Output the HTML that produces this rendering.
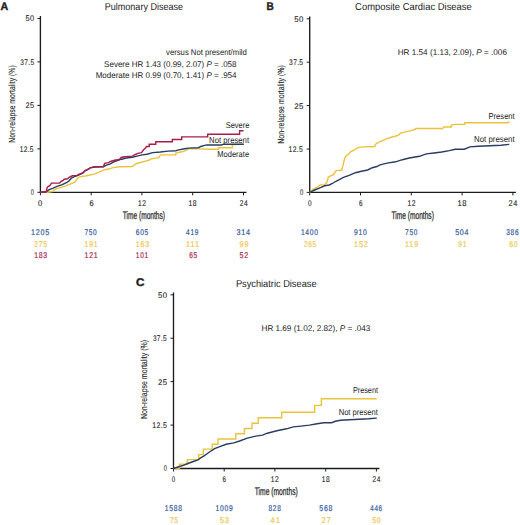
<!DOCTYPE html>
<html><head><meta charset="utf-8"><style>
html,body{margin:0;padding:0;background:#fff;width:520px;height:525px;overflow:hidden}
svg{display:block}
text{font-family:"Liberation Sans", sans-serif;text-rendering:geometricPrecision}
</style></head><body>
<svg width="520" height="525" viewBox="0 0 520 525">
<rect width="520" height="525" fill="#fff"/>
<path d="M40.4,16.1 V192.3 H246.5" fill="none" stroke="#1c1c1c" stroke-width="1.35"/>
<path d="M37.4,192.3 H40.4" stroke="#1c1c1c" stroke-width="1"/>
<path d="M40.4,192.3 V195.3" stroke="#1c1c1c" stroke-width="1"/>
<path d="M37.4,148.9 H40.4" stroke="#1c1c1c" stroke-width="1"/>
<path d="M91.2,192.3 V195.3" stroke="#1c1c1c" stroke-width="1"/>
<path d="M37.4,105.4 H40.4" stroke="#1c1c1c" stroke-width="1"/>
<path d="M141.9,192.3 V195.3" stroke="#1c1c1c" stroke-width="1"/>
<path d="M37.4,61.9 H40.4" stroke="#1c1c1c" stroke-width="1"/>
<path d="M192.7,192.3 V195.3" stroke="#1c1c1c" stroke-width="1"/>
<path d="M37.4,18.5 H40.4" stroke="#1c1c1c" stroke-width="1"/>
<path d="M243.5,192.3 V195.3" stroke="#1c1c1c" stroke-width="1"/>
<path d="M309.7,16.400000000000002 V192.4 H515.9" fill="none" stroke="#1c1c1c" stroke-width="1.35"/>
<path d="M306.7,192.4 H309.7" stroke="#1c1c1c" stroke-width="1"/>
<path d="M309.7,192.4 V195.4" stroke="#1c1c1c" stroke-width="1"/>
<path d="M306.7,149.0 H309.7" stroke="#1c1c1c" stroke-width="1"/>
<path d="M360.5,192.4 V195.4" stroke="#1c1c1c" stroke-width="1"/>
<path d="M306.7,105.6 H309.7" stroke="#1c1c1c" stroke-width="1"/>
<path d="M411.3,192.4 V195.4" stroke="#1c1c1c" stroke-width="1"/>
<path d="M306.7,62.2 H309.7" stroke="#1c1c1c" stroke-width="1"/>
<path d="M462.1,192.4 V195.4" stroke="#1c1c1c" stroke-width="1"/>
<path d="M306.7,18.8 H309.7" stroke="#1c1c1c" stroke-width="1"/>
<path d="M512.9,192.4 V195.4" stroke="#1c1c1c" stroke-width="1"/>
<path d="M173.5,292.40000000000003 V468.5 H379.4" fill="none" stroke="#1c1c1c" stroke-width="1.35"/>
<path d="M170.5,468.5 H173.5" stroke="#1c1c1c" stroke-width="1"/>
<path d="M173.5,468.5 V471.5" stroke="#1c1c1c" stroke-width="1"/>
<path d="M170.5,425.1 H173.5" stroke="#1c1c1c" stroke-width="1"/>
<path d="M224.2,468.5 V471.5" stroke="#1c1c1c" stroke-width="1"/>
<path d="M170.5,381.6 H173.5" stroke="#1c1c1c" stroke-width="1"/>
<path d="M274.9,468.5 V471.5" stroke="#1c1c1c" stroke-width="1"/>
<path d="M170.5,338.2 H173.5" stroke="#1c1c1c" stroke-width="1"/>
<path d="M325.7,468.5 V471.5" stroke="#1c1c1c" stroke-width="1"/>
<path d="M170.5,294.8 H173.5" stroke="#1c1c1c" stroke-width="1"/>
<path d="M376.4,468.5 V471.5" stroke="#1c1c1c" stroke-width="1"/>
<polyline points="40.6,192.3 47.7,192.3 52.3,191.5 55.4,189.2 60.0,187.7 65.4,186.2 68.5,184.6 70.8,183.8 73.8,182.7 76.2,180.8 77.3,178.4 79.6,176.8 86.5,175.7 94.2,174.2 99.6,171.8 104.2,169.9 109.6,168.8 113.1,167.6 119.2,166.8 132.3,166.5 135.4,164.2 138.5,163.0 145.4,161.1 148.8,160.3 151.2,158.8 158.8,157.6 160.4,154.9 175.8,154.9 175.8,153.0 181.9,151.8 186.2,150.4 188.5,148.9 199.2,148.9 210.0,149.2 218.5,149.2 218.5,147.7 232.3,147.7 232.3,144.6 243.8,144.4" fill="none" stroke="#ebc23c" stroke-width="1.4" stroke-linejoin="miter"/>
<polyline points="40.6,192.3 46.0,192.0 49.2,189.6 53.1,188.1 57.7,186.2 62.3,184.6 66.9,182.3 69.2,180.8 71.5,178.1 73.8,176.9 78.5,175.0 82.7,173.2 85.0,170.9 88.1,169.4 90.4,167.8 95.0,167.0 103.5,166.7 105.8,165.3 110.4,163.8 114.6,161.5 121.5,159.2 126.2,158.0 132.3,157.2 136.9,156.1 142.3,154.9 146.9,154.2 152.7,152.6 160.4,152.0 168.1,151.1 175.8,150.7 178.8,149.9 184.6,148.8 188.5,148.1 198.5,147.7 200.8,146.5 204.6,145.4 207.0,144.9 221.5,145.0 223.8,144.2 243.8,144.2" fill="none" stroke="#283d60" stroke-width="1.4" stroke-linejoin="miter"/>
<polyline points="40.6,192.3 46.2,191.5 47.3,187.3 50.0,185.4 51.5,183.1 59.6,183.1 60.8,181.5 63.1,180.4 64.2,179.2 67.7,178.8 69.2,177.3 72.3,175.8 76.9,175.6 78.8,174.5 82.7,173.0 85.0,170.7 88.1,169.2 90.4,167.6 95.0,166.8 103.5,166.5 104.6,163.4 108.8,162.6 110.4,161.5 114.6,160.3 119.2,159.5 121.5,157.2 125.4,156.8 132.3,156.1 135.4,154.5 137.7,153.4 141.5,152.6 143.8,149.5 145.3,148.2 146.5,146.5 149.2,146.5 149.2,144.3 155.8,144.3 155.8,141.8 172.3,141.8 172.3,139.5 181.7,139.5 181.7,136.9 207.7,136.9 207.7,134.2 239.6,134.2 239.6,130.8 243.5,130.8" fill="none" stroke="#a81e48" stroke-width="1.4" stroke-linejoin="miter"/>
<polyline points="309.6,192.4 313.2,189.2 317.0,187.3 320.1,185.0 324.7,184.6 327.0,182.3 328.2,177.3 330.1,176.2 333.5,174.6 335.8,171.0 336.5,170.4 341.5,170.2 342.6,167.0 343.6,162.6 344.7,158.3 346.3,155.8 348.5,154.2 350.8,151.5 353.8,150.4 356.2,148.5 359.2,147.1 374.6,146.5 376.2,143.5 378.4,142.6 381.9,140.9 387.0,138.7 392.1,137.0 398.1,135.3 400.7,133.1 405.8,131.9 411.0,130.6 415.3,129.4 415.8,128.5 442.7,128.5 443.7,127.0 451.3,127.0 451.3,125.1 455.0,124.4 464.8,124.4 464.8,122.7 508.1,122.7 509.2,121.5" fill="none" stroke="#ebc23c" stroke-width="1.4" stroke-linejoin="miter"/>
<polyline points="309.6,192.4 314.7,190.0 319.3,188.1 324.7,185.8 329.3,185.0 332.4,183.5 335.5,181.5 339.3,179.6 343.5,177.4 349.2,175.4 355.4,172.7 361.5,171.2 367.7,170.0 372.3,167.7 376.9,166.5 380.1,164.8 387.0,163.1 395.6,161.8 402.4,159.7 409.3,158.0 419.6,156.3 426.3,153.9 434.0,153.0 441.7,152.0 449.4,150.6 455.2,149.2 464.2,149.2 470.0,146.9 478.1,146.3 489.6,145.8 501.1,145.2 509.2,144.4" fill="none" stroke="#283d60" stroke-width="1.4" stroke-linejoin="miter"/>
<polyline points="173.6,468.5 179.5,468.5 179.5,464.2 187.2,464.2 187.2,459.6 198.7,459.6 198.7,454.6 203.3,454.6 203.3,449.1 212.2,449.1 212.2,444.3 218.0,444.3 218.0,439.0 235.8,439.0 235.8,433.8 244.4,433.8 244.4,428.5 252.0,428.5 252.0,423.3 258.2,423.3 258.2,417.8 281.7,417.8 281.7,412.3 314.7,412.3 314.7,405.4 321.4,405.4 321.4,398.7 376.8,398.8" fill="none" stroke="#ebc23c" stroke-width="1.4" stroke-linejoin="miter"/>
<polyline points="173.6,468.5 179.5,466.5 183.3,465.4 187.9,463.5 193.3,461.5 197.9,460.0 200.2,458.1 204.1,455.8 208.8,452.5 214.6,448.7 220.4,446.3 226.2,444.3 233.8,442.9 239.6,441.0 247.3,438.1 255.8,436.1 262.5,435.1 267.3,433.2 276.9,430.8 286.5,428.8 293.3,426.9 300.8,426.1 309.4,425.1 317.1,423.7 323.8,422.7 331.5,422.7 335.4,421.3 340.5,420.3 349.4,419.8 359.0,419.3 368.7,418.8 376.8,418.1" fill="none" stroke="#283d60" stroke-width="1.4" stroke-linejoin="miter"/>
<text x="30.75" y="195.20000000000002" font-size="8.2" fill="#222" font-weight="normal" textLength="3.38" lengthAdjust="spacingAndGlyphs" letter-spacing="0.4" stroke="#222" stroke-width="0.08">0</text>
<text x="19.70" y="151.75000000000003" font-size="8.2" fill="#222" font-weight="normal" textLength="14.11" lengthAdjust="spacingAndGlyphs" letter-spacing="0.4" stroke="#222" stroke-width="0.08">12.5</text>
<text x="25.50" y="108.30000000000001" font-size="8.2" fill="#222" font-weight="normal" textLength="8.93" lengthAdjust="spacingAndGlyphs" letter-spacing="0.4" stroke="#222" stroke-width="0.08">25</text>
<text x="20.30" y="64.85" font-size="8.2" fill="#222" font-weight="normal" textLength="14.09" lengthAdjust="spacingAndGlyphs" letter-spacing="0.4" stroke="#222" stroke-width="0.08">37.5</text>
<text x="25.50" y="21.4" font-size="8.2" fill="#222" font-weight="normal" textLength="8.93" lengthAdjust="spacingAndGlyphs" letter-spacing="0.4" stroke="#222" stroke-width="0.08">50</text>
<text x="38.10" y="205.8" font-size="8.3" fill="#222" font-weight="normal" textLength="4.83" lengthAdjust="spacingAndGlyphs" letter-spacing="0.7" stroke="#222" stroke-width="0.12">0</text>
<text x="89.40" y="205.8" font-size="8.3" fill="#222" font-weight="normal" textLength="4.83" lengthAdjust="spacingAndGlyphs" letter-spacing="0.7" stroke="#222" stroke-width="0.12">6</text>
<text x="138.10" y="205.8" font-size="8.3" fill="#222" font-weight="normal" textLength="8.55" lengthAdjust="spacingAndGlyphs" letter-spacing="0.7" stroke="#222" stroke-width="0.12">12</text>
<text x="188.40" y="205.8" font-size="8.3" fill="#222" font-weight="normal" textLength="8.72" lengthAdjust="spacingAndGlyphs" letter-spacing="0.7" stroke="#222" stroke-width="0.12">18</text>
<text x="239.70" y="205.8" font-size="8.3" fill="#222" font-weight="normal" textLength="8.48" lengthAdjust="spacingAndGlyphs" letter-spacing="0.7" stroke="#222" stroke-width="0.12">24</text>
<text x="31.10" y="234.70000000000002" font-size="8.3" fill="#32599a" font-weight="normal" textLength="18.94" lengthAdjust="spacingAndGlyphs" letter-spacing="0.9" stroke="#32599a" stroke-width="0.2">1205</text>
<text x="84.50" y="234.70000000000002" font-size="8.3" fill="#32599a" font-weight="normal" textLength="12.94" lengthAdjust="spacingAndGlyphs" letter-spacing="0.9" stroke="#32599a" stroke-width="0.2">750</text>
<text x="135.80" y="234.70000000000002" font-size="8.3" fill="#32599a" font-weight="normal" textLength="13.16" lengthAdjust="spacingAndGlyphs" letter-spacing="0.9" stroke="#32599a" stroke-width="0.2">605</text>
<text x="186.10" y="234.70000000000002" font-size="8.3" fill="#32599a" font-weight="normal" textLength="13.08" lengthAdjust="spacingAndGlyphs" letter-spacing="0.9" stroke="#32599a" stroke-width="0.2">419</text>
<text x="236.40" y="234.70000000000002" font-size="8.3" fill="#32599a" font-weight="normal" textLength="14.38" lengthAdjust="spacingAndGlyphs" letter-spacing="0.9" stroke="#32599a" stroke-width="0.2">314</text>
<text x="34.20" y="246.55" font-size="8.3" fill="#ecc850" font-weight="normal" textLength="13.52" lengthAdjust="spacingAndGlyphs" letter-spacing="0.9" stroke="#ecc850" stroke-width="0.2">275</text>
<text x="84.50" y="246.55" font-size="8.3" fill="#ecc850" font-weight="normal" textLength="14.01" lengthAdjust="spacingAndGlyphs" letter-spacing="0.9" stroke="#ecc850" stroke-width="0.2">191</text>
<text x="135.80" y="246.55" font-size="8.3" fill="#ecc850" font-weight="normal" textLength="14.09" lengthAdjust="spacingAndGlyphs" letter-spacing="0.9" stroke="#ecc850" stroke-width="0.2">163</text>
<text x="186.10" y="246.55" font-size="8.3" fill="#ecc850" font-weight="normal" textLength="14.01" lengthAdjust="spacingAndGlyphs" letter-spacing="0.9" stroke="#ecc850" stroke-width="0.2">111</text>
<text x="239.50" y="246.55" font-size="8.3" fill="#ecc850" font-weight="normal" textLength="9.78" lengthAdjust="spacingAndGlyphs" letter-spacing="0.9" stroke="#ecc850" stroke-width="0.2">99</text>
<text x="34.20" y="258.40000000000003" font-size="8.3" fill="#a8284e" font-weight="normal" textLength="13.68" lengthAdjust="spacingAndGlyphs" letter-spacing="0.9" stroke="#a8284e" stroke-width="0.2">183</text>
<text x="84.50" y="258.40000000000003" font-size="8.3" fill="#a8284e" font-weight="normal" textLength="13.92" lengthAdjust="spacingAndGlyphs" letter-spacing="0.9" stroke="#a8284e" stroke-width="0.2">121</text>
<text x="135.80" y="258.40000000000003" font-size="8.3" fill="#a8284e" font-weight="normal" textLength="13.08" lengthAdjust="spacingAndGlyphs" letter-spacing="0.9" stroke="#a8284e" stroke-width="0.2">101</text>
<text x="189.20" y="258.40000000000003" font-size="8.3" fill="#a8284e" font-weight="normal" textLength="8.70" lengthAdjust="spacingAndGlyphs" letter-spacing="0.9" stroke="#a8284e" stroke-width="0.2">65</text>
<text x="239.50" y="258.40000000000003" font-size="8.3" fill="#a8284e" font-weight="normal" textLength="9.26" lengthAdjust="spacingAndGlyphs" letter-spacing="0.9" stroke="#a8284e" stroke-width="0.2">52</text>
<text x="0.60" y="10.0" font-size="11.0" fill="#222" font-weight="bold" textLength="7.71" lengthAdjust="spacingAndGlyphs" letter-spacing="0" stroke="#222" stroke-width="0.4">A</text>
<text x="104.70" y="10.0" font-size="10.0" fill="#222" font-weight="normal" textLength="78.47" lengthAdjust="spacingAndGlyphs" letter-spacing="0" stroke="#222" stroke-width="0.0">Pulmonary Disease</text>
<text x="166.10" y="55.1" font-size="8.3" fill="#222" font-weight="normal" textLength="80.74" lengthAdjust="spacingAndGlyphs" letter-spacing="0" stroke="#222" stroke-width="0.0">versus Not present/mild</text>
<text x="104.10" y="66.6" font-size="8.3" fill="#222" font-weight="normal" textLength="132.44" lengthAdjust="spacingAndGlyphs" letter-spacing="0" stroke="#222" stroke-width="0.0">Severe HR 1.43 (0.99, 2.07) <tspan font-style="italic">P</tspan> = .058</text>
<text x="95.70" y="78.2" font-size="8.3" fill="#222" font-weight="normal" textLength="140.82" lengthAdjust="spacingAndGlyphs" letter-spacing="0" stroke="#222" stroke-width="0.0">Moderate HR 0.99 (0.70, 1.41) <tspan font-style="italic">P</tspan> = .954</text>
<text x="225.70" y="127.9" font-size="8.6" fill="#222" font-weight="normal" textLength="23.60" lengthAdjust="spacingAndGlyphs" letter-spacing="0" stroke="#222" stroke-width="0.0">Severe</text>
<text x="209.10" y="142.5" font-size="8.6" fill="#222" font-weight="normal" textLength="39.97" lengthAdjust="spacingAndGlyphs" letter-spacing="0" stroke="#222" stroke-width="0.0">Not present</text>
<text x="217.30" y="157.3" font-size="8.6" fill="#222" font-weight="normal" textLength="31.79" lengthAdjust="spacingAndGlyphs" letter-spacing="0" stroke="#222" stroke-width="0.0">Moderate</text>
<text x="122.70" y="219.2" font-size="10.9" fill="#222" font-weight="normal" textLength="42.31" lengthAdjust="spacingAndGlyphs" letter-spacing="0" stroke="#222" stroke-width="0.25">Time (months)</text>
<text font-size="9.0" fill="#222" stroke="#222" stroke-width="0.1" textLength="77.36" lengthAdjust="spacingAndGlyphs" transform="translate(14.9,142.70) rotate(-90)" x="0" y="0">Non-relapse mortality (%)</text>
<text x="300.05" y="195.3" font-size="8.2" fill="#222" font-weight="normal" textLength="3.61" lengthAdjust="spacingAndGlyphs" letter-spacing="0.4" stroke="#222" stroke-width="0.08">0</text>
<text x="288.50" y="151.9" font-size="8.2" fill="#222" font-weight="normal" textLength="14.65" lengthAdjust="spacingAndGlyphs" letter-spacing="0.4" stroke="#222" stroke-width="0.08">12.5</text>
<text x="294.30" y="108.50000000000001" font-size="8.2" fill="#222" font-weight="normal" textLength="9.62" lengthAdjust="spacingAndGlyphs" letter-spacing="0.4" stroke="#222" stroke-width="0.08">25</text>
<text x="289.10" y="65.10000000000002" font-size="8.2" fill="#222" font-weight="normal" textLength="14.32" lengthAdjust="spacingAndGlyphs" letter-spacing="0.4" stroke="#222" stroke-width="0.08">37.5</text>
<text x="294.30" y="21.70000000000001" font-size="8.2" fill="#222" font-weight="normal" textLength="9.50" lengthAdjust="spacingAndGlyphs" letter-spacing="0.4" stroke="#222" stroke-width="0.08">50</text>
<text x="307.90" y="205.9" font-size="8.3" fill="#222" font-weight="normal" textLength="4.12" lengthAdjust="spacingAndGlyphs" letter-spacing="0.7" stroke="#222" stroke-width="0.12">0</text>
<text x="358.95" y="205.9" font-size="8.3" fill="#222" font-weight="normal" textLength="4.12" lengthAdjust="spacingAndGlyphs" letter-spacing="0.7" stroke="#222" stroke-width="0.12">6</text>
<text x="407.40" y="205.9" font-size="8.3" fill="#222" font-weight="normal" textLength="8.61" lengthAdjust="spacingAndGlyphs" letter-spacing="0.7" stroke="#222" stroke-width="0.12">12</text>
<text x="457.45" y="205.9" font-size="8.3" fill="#222" font-weight="normal" textLength="9.69" lengthAdjust="spacingAndGlyphs" letter-spacing="0.7" stroke="#222" stroke-width="0.12">18</text>
<text x="508.50" y="205.9" font-size="8.3" fill="#222" font-weight="normal" textLength="9.31" lengthAdjust="spacingAndGlyphs" letter-spacing="0.7" stroke="#222" stroke-width="0.12">24</text>
<text x="300.90" y="234.8" font-size="8.3" fill="#32599a" font-weight="normal" textLength="17.83" lengthAdjust="spacingAndGlyphs" letter-spacing="0.9" stroke="#32599a" stroke-width="0.2">1400</text>
<text x="354.05" y="234.8" font-size="8.3" fill="#32599a" font-weight="normal" textLength="13.36" lengthAdjust="spacingAndGlyphs" letter-spacing="0.9" stroke="#32599a" stroke-width="0.2">910</text>
<text x="405.10" y="234.8" font-size="8.3" fill="#32599a" font-weight="normal" textLength="13.01" lengthAdjust="spacingAndGlyphs" letter-spacing="0.9" stroke="#32599a" stroke-width="0.2">750</text>
<text x="455.15" y="234.8" font-size="8.3" fill="#32599a" font-weight="normal" textLength="14.09" lengthAdjust="spacingAndGlyphs" letter-spacing="0.9" stroke="#32599a" stroke-width="0.2">504</text>
<text x="506.20" y="234.8" font-size="8.3" fill="#32599a" font-weight="normal" textLength="13.08" lengthAdjust="spacingAndGlyphs" letter-spacing="0.9" stroke="#32599a" stroke-width="0.2">386</text>
<text x="304.00" y="246.65" font-size="8.3" fill="#ecc850" font-weight="normal" textLength="12.93" lengthAdjust="spacingAndGlyphs" letter-spacing="0.9" stroke="#ecc850" stroke-width="0.2">265</text>
<text x="354.05" y="246.65" font-size="8.3" fill="#ecc850" font-weight="normal" textLength="14.56" lengthAdjust="spacingAndGlyphs" letter-spacing="0.9" stroke="#ecc850" stroke-width="0.2">152</text>
<text x="405.10" y="246.65" font-size="8.3" fill="#ecc850" font-weight="normal" textLength="13.84" lengthAdjust="spacingAndGlyphs" letter-spacing="0.9" stroke="#ecc850" stroke-width="0.2">119</text>
<text x="458.25" y="246.65" font-size="8.3" fill="#ecc850" font-weight="normal" textLength="8.95" lengthAdjust="spacingAndGlyphs" letter-spacing="0.9" stroke="#ecc850" stroke-width="0.2">91</text>
<text x="509.30" y="246.65" font-size="8.3" fill="#ecc850" font-weight="normal" textLength="9.14" lengthAdjust="spacingAndGlyphs" letter-spacing="0.9" stroke="#ecc850" stroke-width="0.2">60</text>
<text x="266.60" y="9.9" font-size="11.0" fill="#222" font-weight="bold" textLength="7.26" lengthAdjust="spacingAndGlyphs" letter-spacing="0" stroke="#222" stroke-width="0.4">B</text>
<text x="355.10" y="9.6" font-size="10.0" fill="#222" font-weight="normal" textLength="116.67" lengthAdjust="spacingAndGlyphs" letter-spacing="0" stroke="#222" stroke-width="0.0">Composite Cardiac Disease</text>
<text x="397.70" y="55.0" font-size="8.3" fill="#222" font-weight="normal" textLength="109.26" lengthAdjust="spacingAndGlyphs" letter-spacing="0" stroke="#222" stroke-width="0.0">HR 1.54 (1.13, 2.09), <tspan font-style="italic">P</tspan> = .006</text>
<text x="488.50" y="119.1" font-size="8.6" fill="#222" font-weight="normal" textLength="26.21" lengthAdjust="spacingAndGlyphs" letter-spacing="0" stroke="#222" stroke-width="0.0">Present</text>
<text x="474.10" y="142.1" font-size="8.6" fill="#222" font-weight="normal" textLength="40.54" lengthAdjust="spacingAndGlyphs" letter-spacing="0" stroke="#222" stroke-width="0.0">Not present</text>
<text x="391.50" y="218.9" font-size="10.9" fill="#222" font-weight="normal" textLength="42.33" lengthAdjust="spacingAndGlyphs" letter-spacing="0" stroke="#222" stroke-width="0.25">Time (months)</text>
<text font-size="9.0" fill="#222" stroke="#222" stroke-width="0.1" textLength="78.38" lengthAdjust="spacingAndGlyphs" transform="translate(284.3,143.70) rotate(-90)" x="0" y="0">Non-relapse mortality (%)</text>
<text x="163.85" y="471.4" font-size="8.2" fill="#222" font-weight="normal" textLength="3.38" lengthAdjust="spacingAndGlyphs" letter-spacing="0.4" stroke="#222" stroke-width="0.08">0</text>
<text x="152.30" y="427.97499999999997" font-size="8.2" fill="#222" font-weight="normal" textLength="14.78" lengthAdjust="spacingAndGlyphs" letter-spacing="0.4" stroke="#222" stroke-width="0.08">12.5</text>
<text x="158.10" y="384.54999999999995" font-size="8.2" fill="#222" font-weight="normal" textLength="9.38" lengthAdjust="spacingAndGlyphs" letter-spacing="0.4" stroke="#222" stroke-width="0.08">25</text>
<text x="152.90" y="341.125" font-size="8.2" fill="#222" font-weight="normal" textLength="13.96" lengthAdjust="spacingAndGlyphs" letter-spacing="0.4" stroke="#222" stroke-width="0.08">37.5</text>
<text x="158.10" y="297.7" font-size="8.2" fill="#222" font-weight="normal" textLength="9.38" lengthAdjust="spacingAndGlyphs" letter-spacing="0.4" stroke="#222" stroke-width="0.08">50</text>
<text x="171.70" y="482.0" font-size="8.3" fill="#222" font-weight="normal" textLength="3.86" lengthAdjust="spacingAndGlyphs" letter-spacing="0.7" stroke="#222" stroke-width="0.12">0</text>
<text x="222.55" y="482.0" font-size="8.3" fill="#222" font-weight="normal" textLength="4.02" lengthAdjust="spacingAndGlyphs" letter-spacing="0.7" stroke="#222" stroke-width="0.12">6</text>
<text x="270.80" y="482.0" font-size="8.3" fill="#222" font-weight="normal" textLength="8.44" lengthAdjust="spacingAndGlyphs" letter-spacing="0.7" stroke="#222" stroke-width="0.12">12</text>
<text x="321.65" y="482.0" font-size="8.3" fill="#222" font-weight="normal" textLength="8.50" lengthAdjust="spacingAndGlyphs" letter-spacing="0.7" stroke="#222" stroke-width="0.12">18</text>
<text x="372.50" y="482.0" font-size="8.3" fill="#222" font-weight="normal" textLength="8.28" lengthAdjust="spacingAndGlyphs" letter-spacing="0.7" stroke="#222" stroke-width="0.12">24</text>
<text x="164.70" y="510.9" font-size="8.3" fill="#32599a" font-weight="normal" textLength="17.94" lengthAdjust="spacingAndGlyphs" letter-spacing="0.9" stroke="#32599a" stroke-width="0.2">1588</text>
<text x="215.55" y="510.9" font-size="8.3" fill="#32599a" font-weight="normal" textLength="17.90" lengthAdjust="spacingAndGlyphs" letter-spacing="0.9" stroke="#32599a" stroke-width="0.2">1009</text>
<text x="268.50" y="510.9" font-size="8.3" fill="#32599a" font-weight="normal" textLength="13.08" lengthAdjust="spacingAndGlyphs" letter-spacing="0.9" stroke="#32599a" stroke-width="0.2">828</text>
<text x="319.35" y="510.9" font-size="8.3" fill="#32599a" font-weight="normal" textLength="13.76" lengthAdjust="spacingAndGlyphs" letter-spacing="0.9" stroke="#32599a" stroke-width="0.2">568</text>
<text x="370.20" y="510.9" font-size="8.3" fill="#32599a" font-weight="normal" textLength="12.61" lengthAdjust="spacingAndGlyphs" letter-spacing="0.9" stroke="#32599a" stroke-width="0.2">446</text>
<text x="169.90" y="522.75" font-size="8.3" fill="#ecc850" font-weight="normal" textLength="8.81" lengthAdjust="spacingAndGlyphs" letter-spacing="0.9" stroke="#ecc850" stroke-width="0.2">75</text>
<text x="219.75" y="522.75" font-size="8.3" fill="#ecc850" font-weight="normal" textLength="9.91" lengthAdjust="spacingAndGlyphs" letter-spacing="0.9" stroke="#ecc850" stroke-width="0.2">53</text>
<text x="270.60" y="522.75" font-size="8.3" fill="#ecc850" font-weight="normal" textLength="10.28" lengthAdjust="spacingAndGlyphs" letter-spacing="0.9" stroke="#ecc850" stroke-width="0.2">41</text>
<text x="321.45" y="522.75" font-size="8.3" fill="#ecc850" font-weight="normal" textLength="10.10" lengthAdjust="spacingAndGlyphs" letter-spacing="0.9" stroke="#ecc850" stroke-width="0.2">27</text>
<text x="372.30" y="522.75" font-size="8.3" fill="#ecc850" font-weight="normal" textLength="9.12" lengthAdjust="spacingAndGlyphs" letter-spacing="0.9" stroke="#ecc850" stroke-width="0.2">50</text>
<text x="136.00" y="286.3" font-size="11.0" fill="#222" font-weight="bold" textLength="8.49" lengthAdjust="spacingAndGlyphs" letter-spacing="0" stroke="#222" stroke-width="0.4">C</text>
<text x="235.90" y="287.0" font-size="10.0" fill="#222" font-weight="normal" textLength="80.66" lengthAdjust="spacingAndGlyphs" letter-spacing="0" stroke="#222" stroke-width="0.0">Psychiatric Disease</text>
<text x="261.50" y="331.0" font-size="8.3" fill="#222" font-weight="normal" textLength="108.89" lengthAdjust="spacingAndGlyphs" letter-spacing="0" stroke="#222" stroke-width="0.0">HR 1.69 (1.02, 2.82), <tspan font-style="italic">P</tspan> = .043</text>
<text x="352.90" y="392.8" font-size="8.6" fill="#222" font-weight="normal" textLength="25.10" lengthAdjust="spacingAndGlyphs" letter-spacing="0" stroke="#222" stroke-width="0.0">Present</text>
<text x="338.70" y="415.4" font-size="8.6" fill="#222" font-weight="normal" textLength="39.17" lengthAdjust="spacingAndGlyphs" letter-spacing="0" stroke="#222" stroke-width="0.0">Not present</text>
<text x="254.70" y="495.4" font-size="10.9" fill="#222" font-weight="normal" textLength="43.06" lengthAdjust="spacingAndGlyphs" letter-spacing="0" stroke="#222" stroke-width="0.25">Time (months)</text>
<text font-size="9.0" fill="#222" stroke="#222" stroke-width="0.1" textLength="79.14" lengthAdjust="spacingAndGlyphs" transform="translate(147.4,419.10) rotate(-90)" x="0" y="0">Non-relapse mortality (%)</text>
</svg></body></html>
